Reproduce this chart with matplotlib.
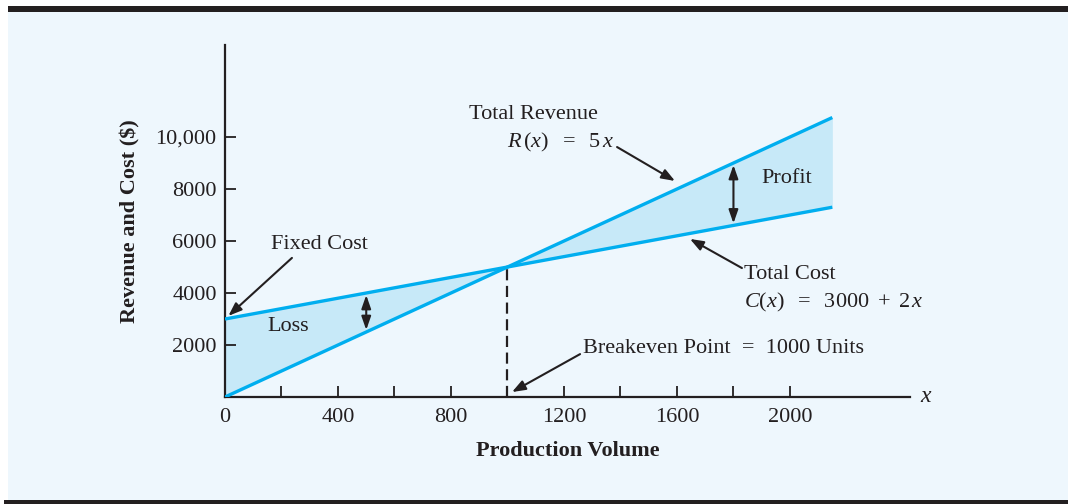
import numpy as np
import matplotlib.pyplot as plt
from matplotlib.patches import Rectangle

plt.rcParams['font.family'] = 'Liberation Serif'
plt.rcParams['mathtext.fontset'] = 'custom'
plt.rcParams['mathtext.rm'] = 'Liberation Serif'
plt.rcParams['mathtext.it'] = 'Liberation Serif:italic'

# Breakeven model
fixed_cost = 3000
unit_cost = 2
unit_price = 5
x_max = 2150
volume = np.array([0, 1000, x_max])
revenue = unit_price * volume
cost = fixed_cost + unit_cost * volume
breakeven = 1000

x_ticks = [0, 400, 800, 1200, 1600, 2000]
x_minor = [200, 600, 1400, 1800]
y_ticks = [2000, 4000, 6000, 8000, 10000]
y_labels = ['2000', '4000', '6000', '8000', '10,000']

line_c = '#00AEEF'
fill_c = '#C7E9F8'
bg_c = '#EEF7FD'
ink = '#231F20'
fs = 16

fig = plt.figure(figsize=(10.68, 5.04), dpi=100, facecolor='white')
fig.patches.append(Rectangle((8 / 1068, 4 / 504), 1, 488 / 504, transform=fig.transFigure,
                             facecolor=bg_c, edgecolor='none', zorder=-2))
fig.patches.append(Rectangle((8 / 1068, 492 / 504), 1, 6 / 504, transform=fig.transFigure,
                             facecolor=ink, edgecolor='none', zorder=-1))
fig.patches.append(Rectangle((4 / 1068, 0), 1, 4 / 504, transform=fig.transFigure,
                             facecolor=ink, edgecolor='none', zorder=-1))

ax = fig.add_axes([225 / 1068, 107 / 504, 685 / 1068, 352 / 504])
ax.set_facecolor('none')
ax.set_xlim(0, 2425)
ax.set_ylim(0, 13540)

ax.fill_between(volume, revenue, cost, color=fill_c, lw=0, zorder=1)
ax.plot(volume, revenue, color=line_c, lw=2.4, zorder=3, solid_capstyle='butt')
ax.plot(volume, cost, color=line_c, lw=2.4, zorder=3, solid_capstyle='butt')
ax.plot([breakeven, breakeven], [0, unit_price * breakeven], color=ink, lw=1.6,
        ls=(0, (5, 2.5)), zorder=2)

for s in ['top', 'right']:
    ax.spines[s].set_visible(False)
for s in ['left', 'bottom']:
    ax.spines[s].set_color(ink)
    ax.spines[s].set_linewidth(1.6)

ax.set_xticks(x_ticks)
ax.set_xticklabels([str(t) for t in x_ticks], fontsize=fs, color=ink)
ax.set_xticks(x_minor, minor=True)
ax.set_yticks(y_ticks)
ax.set_yticklabels(y_labels, fontsize=fs, color=ink)
ax.tick_params(axis='both', which='both', direction='in', length=8, width=1.3, color=ink)
ax.tick_params(axis='x', which='major', pad=8)
ax.tick_params(axis='y', which='major', pad=6)
# no inner tick at origin
ax.xaxis.get_major_ticks()[0].tick1line.set_visible(False)

ax.set_xlabel('Production Volume', fontsize=fs, fontweight='bold', color=ink, labelpad=10)
ax.set_ylabel('Revenue and Cost ($)', fontsize=fs, fontweight='bold', color=ink, labelpad=11)
ax.text(2460, 0, r'$x$', fontsize=17, color=ink, va='center', ha='left', clip_on=False)

arrow_kw = dict(arrowstyle='-|>,head_length=0.8,head_width=0.3', color=ink, lw=1.5,
                shrinkA=0, shrinkB=0)
dbl_kw = dict(arrowstyle='<|-|>,head_length=0.8,head_width=0.28', color=ink, lw=1.5,
              shrinkA=0, shrinkB=0)

# loss / profit gaps
ax.annotate('', xy=(500, 500 * unit_price + 80), xytext=(500, fixed_cost + unit_cost * 500 - 80),
            arrowprops=dbl_kw, zorder=4)
ax.annotate('', xy=(1800, fixed_cost + unit_cost * 1800 + 80), xytext=(1800, 1800 * unit_price - 80),
            arrowprops=dbl_kw, zorder=4)
ax.text(150, 2730, 'Loss', fontsize=fs, color=ink, va='center', ha='left')
ax.text(1898, 8420, 'Profit', fontsize=fs, color=ink, va='center', ha='left')

ax.text(164, 5850, 'Fixed Cost', fontsize=fs, color=ink, va='center', ha='left')
ax.annotate('', xy=(12, 3120), xytext=(237, 5350), arrowprops=arrow_kw)

ax.text(865, 10880, 'Total Revenue', fontsize=fs, color=ink, va='center', ha='left')
ax.text(1000, 9800, r'$R\,(x)\ \ =\ \ 5\,x$', fontsize=fs, color=ink, va='center', ha='left')
ax.annotate('', xy=(1593, 8310), xytext=(1388, 9615), arrowprops=arrow_kw)

ax.text(1838, 4730, 'Total Cost', fontsize=fs, color=ink, va='center', ha='left')
ax.text(1838, 3650, r'$C(x)\ \ =\ \ 3000\,\,+\,\,2\,x$', fontsize=fs, color=ink,
        va='center', ha='left')
ax.annotate('', xy=(1646, 6080), xytext=(1830, 4960), arrowprops=arrow_kw)

ax.text(1269, 1850, 'Breakeven Point  =  1000 Units', fontsize=fs, color=ink,
        va='center', ha='left')
ax.annotate('', xy=(1016, 190), xytext=(1257, 1650), arrowprops=arrow_kw)

fig.savefig('out.png', dpi=100, facecolor=fig.get_facecolor())
